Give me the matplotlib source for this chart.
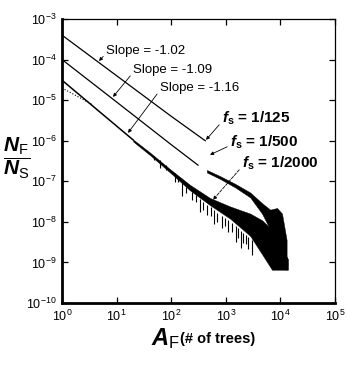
import numpy as np
import matplotlib
matplotlib.use("Agg")
import matplotlib.pyplot as plt


plt.rcParams.update({
    "font.family": ["Liberation Sans Narrow", "Liberation Sans", "DejaVu Sans"],
    "mathtext.fontset": "custom",
    "mathtext.rm": "Liberation Sans",
    "mathtext.it": "Liberation Sans:italic:bold",
    "mathtext.bf": "Liberation Sans:bold",
    "xtick.direction": "in",
    "ytick.direction": "in",
    "xtick.top": True,
    "ytick.right": True,
})


# clean power-law parts
a_125 = [1, 10, 100, 420]
n_125 = [4.0e-4, 4.0e-5, 4.0e-6, 1.0e-6]

a_500 = [1, 10, 100, 310]
n_500 = [1.0e-4, 9.0e-6, 8.0e-7, 2.5e-7]

a_2000 = [1, 20]
n_2000 = [3.1e-5, 1.05e-6]

# dotted raw data at small areas
a_dot = [1, 3.7]
n_dot = [2.0e-5, 7.6e-6]

# noisy tail of fs = 1/500 (envelope)
a_500_tail = [450, 780, 1500, 2800, 4600, 6500, 8700, 10700, 13000]
n_500_hi = [1.9e-7, 1.35e-7, 8.6e-8, 5.3e-8, 2.9e-8, 2.0e-8, 2.2e-8, 1.6e-8, 3.6e-9]
n_500_lo = [1.65e-7, 1.15e-7, 7.0e-8, 4.0e-8, 1.6e-8, 6.4e-9, 2.0e-9, 7.4e-10, 6.6e-10]

# noisy tail of fs = 1/2000 (envelope)
a_2000_tail = [20, 41, 95, 220, 510, 1200, 2800, 4600, 7000, 13800]
n_2000_hi = [1.08e-6, 5.1e-7, 2.0e-7, 8.2e-8, 3.9e-8, 2.4e-8, 1.6e-8, 1.1e-8, 6.4e-9, 1.2e-9]
n_2000_lo = [9.6e-7, 4.4e-7, 1.65e-7, 6.0e-8, 2.6e-8, 1.2e-8, 4.5e-9, 1.6e-9, 6.6e-10, 6.6e-10]

# downward spikes in the 1/2000 tail
a_spk = [48, 62, 80, 117, 135, 158, 190, 240, 280, 337, 390, 453, 530,
         608, 700, 852, 960, 1097, 1300, 1537, 1700, 1898, 2100, 2344, 2600, 3020]
n_spk_top = [4.2e-7, 3.4e-7, 2.5e-7, 1.6e-7, 1.3e-7, 9.0e-8, 7.2e-8, 5.6e-8, 4.6e-8,
             3.6e-8, 3.1e-8, 2.6e-8, 2.3e-8, 2.0e-8, 1.7e-8, 1.4e-8, 1.25e-8,
             1.1e-8, 9.5e-9, 8.0e-9, 7.0e-9, 6.0e-9, 5.4e-9, 4.8e-9, 4.2e-9, 3.6e-9]
n_spk_bot = [3.3e-7, 2.1e-7, 1.9e-7, 9.7e-8, 9.5e-8, 4.4e-8, 5.0e-8, 3.5e-8, 3.0e-8,
             1.8e-8, 2.0e-8, 1.5e-8, 1.4e-8, 8.9e-9, 1.0e-8, 7.1e-9, 8.0e-9,
             5.7e-9, 5.5e-9, 3.2e-9, 4.0e-9, 2.3e-9, 3.0e-9, 2.9e-9, 2.2e-9, 1.5e-9]

x_ticks = [1e0, 1e1, 1e2, 1e3, 1e4, 1e5]
y_ticks = [1e-10, 1e-9, 1e-8, 1e-7, 1e-6, 1e-5, 1e-4, 1e-3]


fig = plt.figure(figsize=(3.47, 3.65), dpi=100)
ax = fig.add_axes([62 / 347, 62 / 365, 273 / 347, 284 / 365])

ax.plot(a_125, n_125, color="k", lw=0.9)
ax.plot(a_500, n_500, color="k", lw=0.9)
ax.plot(a_2000, n_2000, color="k", lw=1.1)
ax.plot(a_dot, n_dot, color="k", lw=0.8, ls=":")

ax.fill_between(a_500_tail, n_500_lo, n_500_hi, color="k", lw=0.3)
ax.fill_between(a_2000_tail, n_2000_lo, n_2000_hi, color="k", lw=0.3)
ax.vlines(a_spk, n_spk_bot, n_spk_top, color="k", lw=0.8)

ax.set_xscale("log")
ax.set_yscale("log")
ax.set_xlim(1e0, 1e5)
ax.set_ylim(1e-10, 1e-3)
ax.set_xticks(x_ticks)
ax.set_yticks(y_ticks)
ax.minorticks_off()
ax.tick_params(length=4.5, width=0.9, labelsize=9, pad=4)

ax.spines["left"].set_linewidth(2.0)
ax.spines["bottom"].set_linewidth(2.0)
ax.spines["top"].set_linewidth(0.9)
ax.spines["right"].set_linewidth(0.9)

arrow = dict(arrowstyle="-|>", lw=0.6, color="k", mutation_scale=5,
             shrinkA=0, shrinkB=0, relpos=(0.0, 0.3))

ax.annotate("Slope = -1.02", xy=(4.76, 9.2e-5), xytext=(6.4, 1.63e-4),
            fontsize=9.5, va="center", ha="left", arrowprops=arrow)
ax.annotate("Slope = -1.09", xy=(8.6, 1.2e-5), xytext=(20, 5.5e-5),
            fontsize=9.5, va="center", ha="left", arrowprops=arrow)
ax.annotate("Slope = -1.16", xy=(16.2, 1.56e-6), xytext=(62, 2.0e-5),
            fontsize=9.5, va="center", ha="left", arrowprops=arrow)

ax.annotate(r"$f_\mathbf{s}$ = 1/125", xy=(434, 1.05e-6), xytext=(852, 3.6e-6),
            fontsize=11, fontweight="bold", va="center", ha="left",
            arrowprops=arrow)
ax.annotate(r"$f_\mathbf{s}$ = 1/500", xy=(514, 4.5e-7), xytext=(1194, 9.3e-7),
            fontsize=11, fontweight="bold", va="center", ha="left",
            arrowprops=arrow)
ax.annotate(r"$f_\mathbf{s}$ = 1/2000", xy=(583, 3.5e-8), xytext=(1981, 2.8e-7),
            fontsize=11, fontweight="bold", va="center", ha="left",
            arrowprops=dict(arrow, ls="--"))

fig.text(17 / 347, 1 - 158 / 365, r"$\dfrac{N_\mathrm{F}}{N_\mathrm{S}}$",
         fontsize=15, ha="center", va="center")

fig.text(151 / 347, 1 - 339 / 365, r"$A_\mathrm{F}$", fontsize=17,
         ha="left", va="center")
fig.text(180 / 347, 1 - 339 / 365, "(# of trees)", fontsize=10.5,
         fontweight="bold", ha="left", va="center")

fig.savefig("out.png", dpi=100)
